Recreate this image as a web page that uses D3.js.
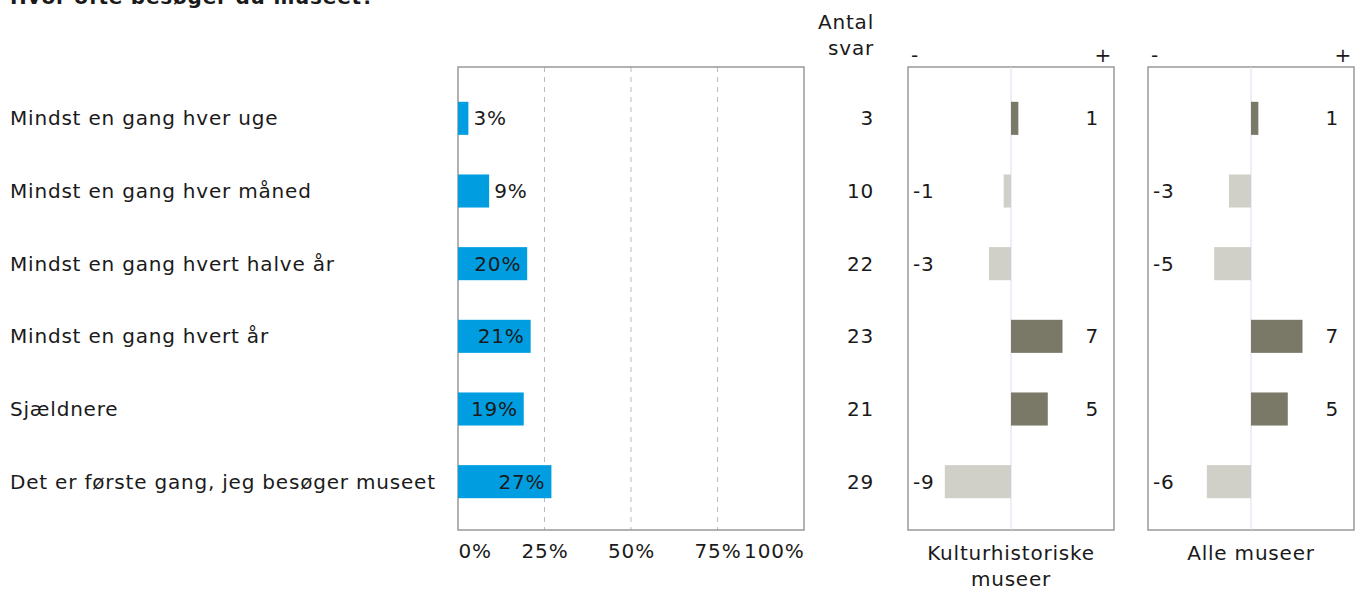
<!doctype html>
<html>
<head>
<meta charset="utf-8">
<script src="https://cdnjs.cloudflare.com/ajax/libs/d3/7.8.5/d3.min.js"></script>
<style>
  body { margin: 0; background: #fff; }
  svg text { font-family: "DejaVu Sans", Verdana, sans-serif; font-size: 20px; letter-spacing: 0.8px; fill: #1a1a1a; }
</style>
</head>
<body>
<svg id="chart" width="1355" height="590"></svg>
<script>
var categories = [
  "Mindst en gang hver uge",
  "Mindst en gang hver måned",
  "Mindst en gang hvert halve år",
  "Mindst en gang hvert år",
  "Sjældnere",
  "Det er første gang, jeg besøger museet"
];
var shares = [3, 9, 20, 21, 19, 27];
var antalSvar = [3, 10, 22, 23, 21, 29];
var diffKultur = [1, -1, -3, 7, 5, -9];
var diffAlle = [1, -3, -5, 7, 5, -6];
var pctTicks = [0, 25, 50, 75, 100];
var panelTitles = [["Kulturhistoriske", "museer"], ["Alle museer"]];

var svg = d3.select("#chart");
var blue = "#009ee0", posCol = "#7a7967", negCol = "#d0d0c8", boxCol = "#999";
var plotTop = 67, plotBottom = 530;

// title (mostly outside the picture)
svg.append("text").attr("x", 10).attr("y", 4)
  .style("font-weight", "bold").text("Hvor ofte besøger du museet?");

var y = d3.scaleBand().domain(categories).range([82, 518]).paddingInner(0.545).paddingOuter(0.2725);
var yc = function(d) { return y(d) + y.bandwidth() / 2; };

// category labels
svg.selectAll("text.cat").data(categories).enter().append("text")
  .attr("class", "cat").attr("x", 10).attr("y", d => yc(d)).attr("dy", "0.35em")
  .text(d => d);

// main percent chart
var x = d3.scaleLinear().domain([0, 100]).range([458, 804]);

svg.selectAll("line.grid").data(pctTicks.slice(1, 4)).enter().append("line")
  .attr("x1", d => x(d)).attr("x2", d => x(d)).attr("y1", plotTop).attr("y2", plotBottom)
  .style("stroke", "#bbb").style("stroke-dasharray", "5,5");

svg.append("rect").attr("x", x(0)).attr("y", plotTop).attr("width", x(100) - x(0)).attr("height", plotBottom - plotTop)
  .style("fill", "none").style("stroke", boxCol).style("stroke-width", 1.5);

svg.selectAll("rect.bar").data(shares).enter().append("rect")
  .attr("x", x(0)).attr("y", (d, i) => y(categories[i]))
  .attr("width", d => x(d) - x(0)).attr("height", y.bandwidth())
  .style("fill", blue);

svg.selectAll("text.pct").data(shares).enter().append("text")
  .attr("x", d => d < 15 ? x(d) + 5 : x(d) - 6)
  .attr("y", (d, i) => yc(categories[i])).attr("dy", "0.35em")
  .attr("text-anchor", d => d < 15 ? "start" : "end")
  .text(d => d + "%");

var xAxis = svg.append("g").attr("transform", "translate(0," + plotBottom + ")")
  .call(d3.axisBottom(x).tickValues(pctTicks).tickSize(0).tickPadding(14).tickFormat(d => d + "%"));
xAxis.select(".domain").remove();
xAxis.selectAll("text").style("font-size", "20px").style("font-family", null)
  .attr("text-anchor", (d, i) => i == 0 ? "start" : (i == pctTicks.length - 1 ? "end" : "middle"))
  .attr("x", (d, i) => i == 0 ? 0 : (i == pctTicks.length - 1 ? 0 : 0));

// antal svar column
svg.append("text").attr("x", 874).attr("y", 29).attr("text-anchor", "end").text("Antal");
svg.append("text").attr("x", 874).attr("y", 55).attr("text-anchor", "end").text("svar");
svg.selectAll("text.n").data(antalSvar).enter().append("text")
  .attr("x", 874).attr("y", (d, i) => yc(categories[i])).attr("dy", "0.35em")
  .attr("text-anchor", "end").text(d => d);

// difference panels
function panel(values, left, title) {
  var w = 206;
  var xs = d3.scaleLinear().domain([-14, 14]).range([left, left + w]);
  var g = svg.append("g");
  g.append("rect").attr("x", left).attr("y", plotTop).attr("width", w).attr("height", plotBottom - plotTop)
    .style("fill", "none").style("stroke", boxCol).style("stroke-width", 1.5);
  g.append("line").attr("x1", xs(0)).attr("x2", xs(0)).attr("y1", plotTop).attr("y2", plotBottom)
    .style("stroke", "#dcdcf0");
  g.append("text").attr("x", left + 3).attr("y", 62).text("-");
  g.append("text").attr("x", left + w - 2).attr("y", 62).attr("text-anchor", "end").text("+");
  g.selectAll("rect.d").data(values).enter().append("rect")
    .attr("x", d => xs(Math.min(0, d))).attr("y", (d, i) => y(categories[i]))
    .attr("width", d => Math.abs(xs(d) - xs(0))).attr("height", y.bandwidth())
    .style("fill", d => d >= 0 ? posCol : negCol);
  g.selectAll("text.v").data(values).enter().append("text")
    .attr("x", d => d >= 0 ? left + w - 15 : left + 5)
    .attr("y", (d, i) => yc(categories[i])).attr("dy", "0.35em")
    .attr("text-anchor", d => d >= 0 ? "end" : "start")
    .text(d => d);
  g.selectAll("text.t").data(title).enter().append("text")
    .attr("x", xs(0)).attr("y", (d, i) => 560 + i * 26).attr("text-anchor", "middle").text(d => d);
}
panel(diffKultur, 908, panelTitles[0]);
panel(diffAlle, 1148, panelTitles[1]);
</script>
</body>
</html>
